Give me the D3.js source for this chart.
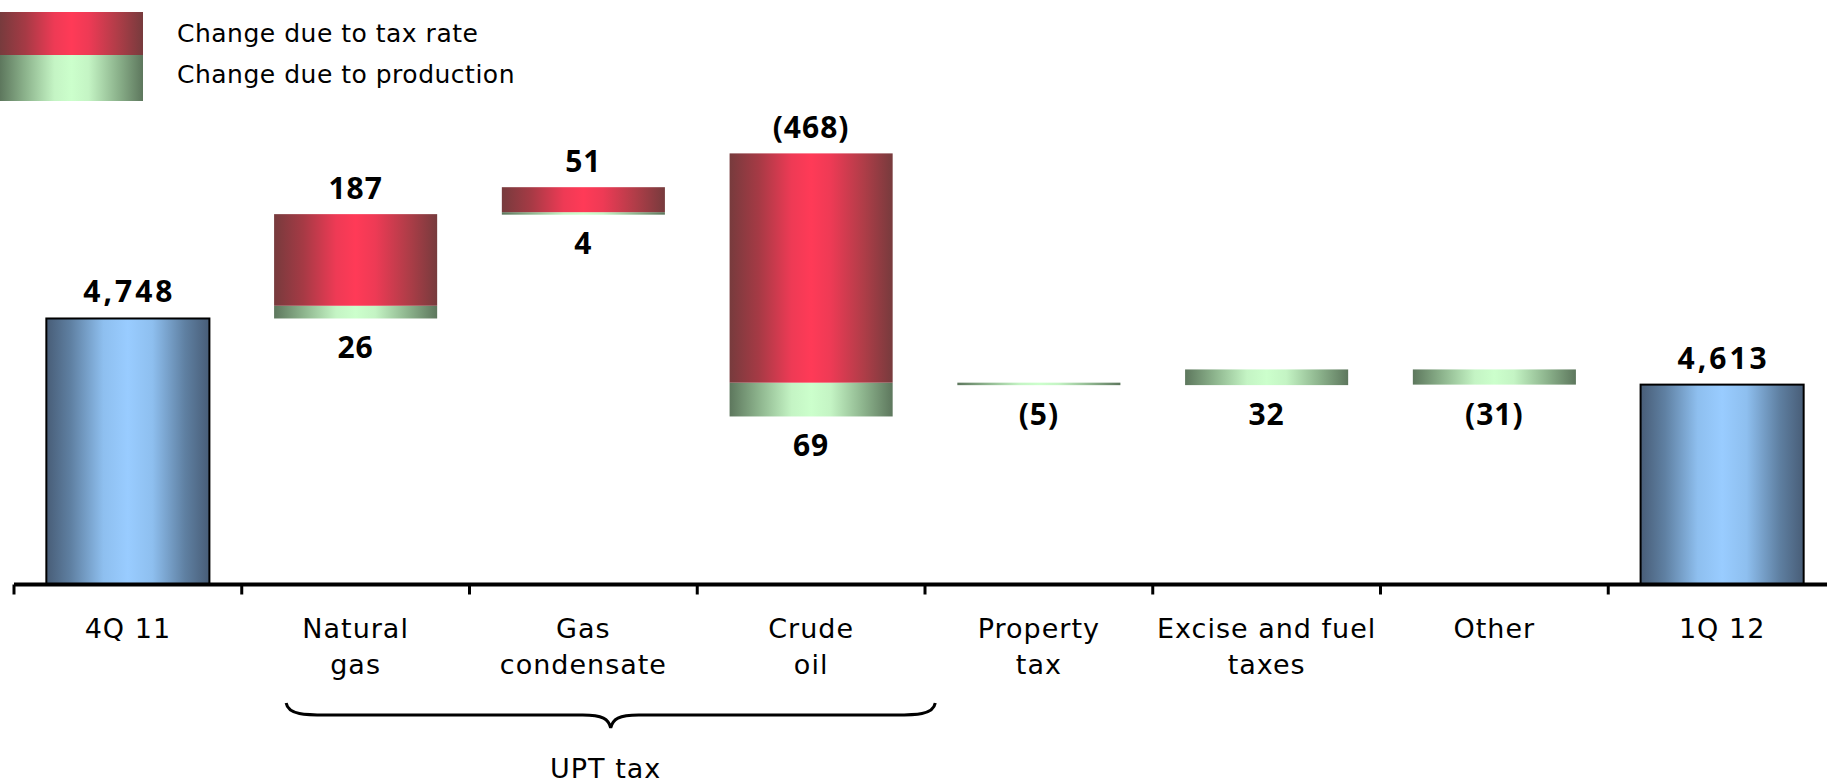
<!DOCTYPE html>
<html>
<head>
<meta charset="utf-8">
<script src="https://cdn.jsdelivr.net/npm/d3@7/dist/d3.min.js"></script>
<style>
  html, body { margin: 0; padding: 0; background: #ffffff; }
  svg { display: block; }
  .cat { font-family: "DejaVu Sans", Verdana, sans-serif; font-size: 27px; letter-spacing: 1px; fill: #000; }
  .legend-text { font-family: "DejaVu Sans", Verdana, sans-serif; font-size: 25px; letter-spacing: 0.5px; fill: #000; }
  .val { font-family: "Noto Sans", sans-serif; font-weight: 700; font-size: 30px; letter-spacing: 1px; fill: #000; }
  .val.total { letter-spacing: 3px; }
</style>
</head>
<body>
<svg id="chart" width="1827" height="784"></svg>
<script>
// Tax payments bridge, 4Q 11 -> 1Q 12
const categories = ["4Q 11", "Natural gas", "Gas condensate", "Crude oil",
                    "Property tax", "Excise and fuel taxes", "Other", "1Q 12"];
const categoryLines = [["4Q 11"], ["Natural", "gas"], ["Gas", "condensate"], ["Crude", "oil"],
                       ["Property", "tax"], ["Excise and fuel", "taxes"], ["Other"], ["1Q 12"]];
// Totals at each end of the bridge
const totalValues = [4748, null, null, null, null, null, null, 4613];
// Change due to production (green segments)
const productionChange = [null, 26, 4, 69, -5, 32, -31, null];
// Change due to tax rate (red segments)
const taxRateChange = [null, 187, 51, -468, null, null, null, null];
const legendLabels = ["Change due to tax rate", "Change due to production"];
const groupLabel = "UPT tax";
const groupSpan = ["Natural gas", "Crude oil"];

const svg = d3.select("#chart");
const W = 1827;

const x = d3.scaleBand().domain(categories).range([14, 1836]).paddingInner(0).paddingOuter(0);
const y = d3.scaleLinear().domain([4205, 5300]).range([584.5, 48.06]);
const bw = x.bandwidth();
const barW = bw * 0.716;

// Gradients: dark edges, bright centre
const defs = svg.append("defs");
function grad(id, stops) {
  const g = defs.append("linearGradient").attr("id", id)
    .attr("x1", "0%").attr("x2", "100%").attr("y1", "0%").attr("y2", "0%");
  stops.forEach(([o, c]) => g.append("stop").attr("offset", o).attr("stop-color", c));
}
grad("gBlue", [[0, "#485d77"], [0.15, "#5f80a2"], [0.35, "#8ebfef"], [0.5, "#99ccff"],
               [0.65, "#8ebfef"], [0.85, "#5f80a2"], [1, "#485d77"]]);
grad("gRed", [[0, "#773b3d"], [0.18, "#a63a45"], [0.38, "#ee3a55"], [0.5, "#ff3a57"],
              [0.62, "#ee3a55"], [0.82, "#b03d48"], [1, "#773b3d"]]);
grad("gGreen", [[0, "#5d775d"], [0.18, "#8db48d"], [0.38, "#c4f4c4"], [0.5, "#ccffcc"],
                [0.62, "#c4f4c4"], [0.82, "#8db48d"], [1, "#5d775d"]]);

// Build the waterfall segments from the running level
const steps = [];
let level = 0;
categories.forEach((c, i) => {
  if (totalValues[i] != null) {
    level = totalValues[i];
    steps.push({ c, total: totalValues[i] });
    return;
  }
  const g = productionChange[i] || 0;
  const r = taxRateChange[i] || 0;
  const top = Math.max(level, level + g, level + g + r);
  const bottom = top - Math.abs(g) - Math.abs(r);
  steps.push({ c, g, r, top, bottom,
               hasG: productionChange[i] != null, hasR: taxRateChange[i] != null });
  level = level + g + r;
});

const fmt = v => v < 0 ? "(" + d3.format(",")(-v) + ")" : d3.format(",")(v);

const bars = svg.append("g");
const labels = svg.append("g");
steps.forEach((s, i) => {
  const x0 = x(s.c) + (bw - barW) / 2;
  const cx = x(s.c) + bw / 2;
  if (s.total != null) {
    bars.append("rect").attr("x", x0).attr("y", y(s.total))
      .attr("width", barW).attr("height", y.range()[0] - y(s.total))
      .attr("fill", "url(#gBlue)").attr("stroke", "#000").attr("stroke-width", 2);
    labels.append("text").attr("class", "val total").attr("x", cx + 1.5).attr("y", y(s.total) - 16)
      .attr("text-anchor", "middle").text(fmt(s.total));
    return;
  }
  const gTop = s.bottom + Math.abs(s.g);
  if (s.hasG) {
    bars.append("rect").attr("x", x0).attr("y", y(gTop))
      .attr("width", barW).attr("height", Math.max(y(s.bottom) - y(gTop), 2.5))
      .attr("fill", "url(#gGreen)");
  }
  if (s.hasR) {
    bars.append("rect").attr("x", x0).attr("y", y(s.top))
      .attr("width", barW).attr("height", y(gTop) - y(s.top))
      .attr("fill", "url(#gRed)");
    labels.append("text").attr("class", "val").attr("x", cx).attr("y", y(s.top) - 15)
      .attr("text-anchor", "middle").text(fmt(s.r));
  }
  if (s.hasG) {
    labels.append("text").attr("class", "val").attr("x", cx).attr("y", y(s.bottom) + 40)
      .attr("text-anchor", "middle").text(fmt(s.g));
  }
});

// Category axis
const axisY = y.range()[0];
const axis = svg.append("g");
axis.append("line").attr("x1", 14).attr("x2", W).attr("y1", axisY).attr("y2", axisY)
  .attr("stroke", "#000").attr("stroke-width", 4);
categories.forEach(c => {
  axis.append("line").attr("x1", x(c)).attr("x2", x(c))
    .attr("y1", axisY).attr("y2", axisY + 10)
    .attr("stroke", "#000").attr("stroke-width", 3);
});
categories.forEach((c, i) => {
  const t = axis.append("text").attr("class", "cat").attr("text-anchor", "middle");
  categoryLines[i].forEach((ln, j) => {
    t.append("tspan").attr("x", x(c) + bw / 2).attr("y", 638 + j * 36).text(ln);
  });
});

// Brace grouping the UPT tax categories
const bx0 = x(groupSpan[0]) + bw * 0.195;
const bx1 = x(groupSpan[1]) + bw * 1.045;
const bm = (bx0 + bx1) / 2;
const by0 = 703, by1 = 715, by2 = 728;
const brace = d3.path();
brace.moveTo(bx0, by0);
brace.bezierCurveTo(bx0 + 2, by1, bx0 + 20, by1, bx0 + 40, by1);
brace.lineTo(bm - 28, by1);
brace.bezierCurveTo(bm - 8, by1, bm - 2, by1 + 4, bm, by2);
brace.bezierCurveTo(bm + 2, by1 + 4, bm + 8, by1, bm + 28, by1);
brace.lineTo(bx1 - 40, by1);
brace.bezierCurveTo(bx1 - 20, by1, bx1 - 2, by1, bx1, by0);
svg.append("path").attr("d", brace.toString()).attr("fill", "none")
  .attr("stroke", "#000").attr("stroke-width", 3);
svg.append("text").attr("class", "cat").attr("x", bm - 5).attr("y", 778)
  .attr("text-anchor", "middle").text(groupLabel);

// Legend
const legend = svg.append("g");
legend.append("rect").attr("x", 0).attr("y", 12).attr("width", 143).attr("height", 43)
  .attr("fill", "url(#gRed)");
legend.append("rect").attr("x", 0).attr("y", 55).attr("width", 143).attr("height", 46)
  .attr("fill", "url(#gGreen)");
legendLabels.forEach((l, i) => {
  legend.append("text").attr("class", "legend-text").attr("x", 177).attr("y", 41.5 + i * 41.5).text(l);
});
</script>
</body>
</html>
